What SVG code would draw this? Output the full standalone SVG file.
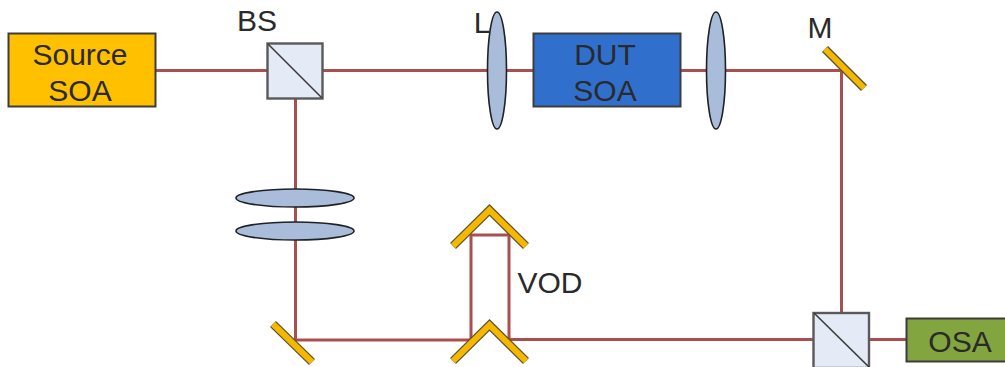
<svg xmlns="http://www.w3.org/2000/svg" width="1005" height="367" viewBox="0 0 1005 367">
<style>
.beam{fill:none;stroke:#a94f4f;stroke-width:3}
.box{stroke:#3c3c3c;stroke-width:2}
.lens{fill:#a9bcd9;stroke:#1e2226;stroke-width:1.6}
.cube{fill:#e4eaf6;stroke:#5a5a5a;stroke-width:2.4}
.diag{stroke:#3c3c3c;stroke-width:1.6}
.mo{fill:none;stroke:#5c5030;stroke-width:8.5;stroke-linejoin:miter}
.mi{fill:none;stroke:#f5b800;stroke-width:6;stroke-linejoin:miter}
text{font-family:"Liberation Sans",Arial,sans-serif;font-size:30px;fill:#2a2a2a;text-anchor:middle}
</style>
<g id="connectors">
<path class="beam" d="M155 70.500H267M323 70.500H533M680 70.500H841.500V313"/>
<path class="beam" d="M295.500 98V340H471V235H509V339.500H813"/>
<path class="beam" d="M869 339.500H906"/>
</g>
<g id="source-soa"><rect class="box" x="8.500" y="33.500" width="147" height="73" fill="#ffc000"/><text x="80" y="65">Source</text><text x="80" y="101">SOA</text></g>
<g id="bs"><rect class="cube" x="267.500" y="43.500" width="55" height="55"/><line class="diag" x1="268" y1="44" x2="322" y2="98"/><text x="257" y="31">BS</text></g>
<g id="lens-l"><ellipse class="lens" cx="497" cy="70.500" rx="9.500" ry="58.500"/><text x="482" y="33">L</text></g>
<g id="dut-soa"><rect class="box" x="533.500" y="33.500" width="147" height="73" fill="#3070cc"/><text x="605" y="65">DUT</text><text x="605" y="101">SOA</text></g>
<g id="lens-2"><ellipse class="lens" cx="716" cy="70.500" rx="9.500" ry="58.500"/></g>
<g id="mirror-m"><line class="mo" x1="825" y1="49" x2="864" y2="88"/><line class="mi" x1="825" y1="49" x2="864" y2="88"/><text x="820" y="38">M</text></g>
<g id="lens-h1"><ellipse class="lens" cx="295" cy="198" rx="59" ry="9"/></g>
<g id="lens-h2"><ellipse class="lens" cx="295" cy="231" rx="59" ry="9"/></g>
<g id="mirror-bl"><line class="mo" x1="273" y1="324" x2="312" y2="362"/><line class="mi" x1="273" y1="324" x2="312" y2="362"/></g>
<g id="vod-top"><path class="mo" d="M453 246L489.500 210L526 246"/><path class="mi" d="M453 246L489.500 210L526 246"/><text x="550" y="293">VOD</text></g>
<g id="vod-bottom"><path class="mo" d="M453 361L489.500 325L526 361"/><path class="mi" d="M453 361L489.500 325L526 361"/></g>
<g id="bs2"><rect class="cube" x="813.500" y="313" width="55.500" height="55"/><line class="diag" x1="814" y1="313" x2="869" y2="367"/></g>
<g id="osa"><rect class="box" x="906.500" y="318.500" width="100" height="43" fill="#82a53f"/><text x="960" y="352">OSA</text></g>
</svg>
